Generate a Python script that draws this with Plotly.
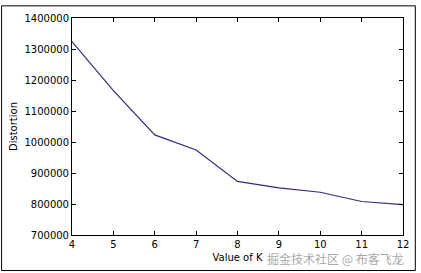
import plotly.graph_objects as go

k_values = [4, 5, 6, 7, 8, 9, 10, 11, 12]
distortion = [1324000, 1166000, 1023000, 974000, 873000, 852000, 838000, 808000, 798000]
y_ticks = [700000, 800000, 900000, 1000000, 1100000, 1200000, 1300000, 1400000]

fig = go.Figure()
fig.add_trace(go.Scatter(x=k_values, y=distortion, mode="lines",
                         line=dict(color="#2e2e7e", width=1.2), showlegend=False))

axis_common = dict(showgrid=False, zeroline=False, showline=True, linecolor="black",
                   linewidth=1, mirror="ticks", ticks="inside", ticklen=4,
                   tickcolor="black", tickwidth=1,
                   tickfont=dict(family="DejaVu Sans", size=10, color="black"))

fig.update_xaxes(range=[4, 12], tickvals=k_values, **axis_common,
                 title=dict(text="Value of K", font=dict(family="DejaVu Sans", size=10, color="black"), standoff=4))
fig.update_yaxes(range=[700000, 1400000], tickvals=y_ticks, tickformat="d", **axis_common,
                 title=dict(text="Distortion", font=dict(family="DejaVu Sans", size=10, color="black"), standoff=4))

fig.add_shape(type="rect", xref="paper", yref="paper",
              x0=(0.5 - 72) / 336, x1=(420.5 - 72) / 336,
              y0=(236 - 272.5) / 223, y1=(236 - 0.5) / 223,
              line=dict(color="black", width=1))

fig.add_annotation(text="掘金技术社区 @ 布客飞龙", xref="paper", yref="paper",
                   x=1.01, y=(236 - 260) / 223, xanchor="right", yanchor="middle",
                   showarrow=False,
                   font=dict(family="Noto Sans CJK SC", size=12, color="rgba(150,150,150,0.85)"))

fig.update_layout(width=421, height=273, margin=dict(l=72, r=13, t=13, b=37),
                  paper_bgcolor="white", plot_bgcolor="white")

fig.write_html("out.html")
